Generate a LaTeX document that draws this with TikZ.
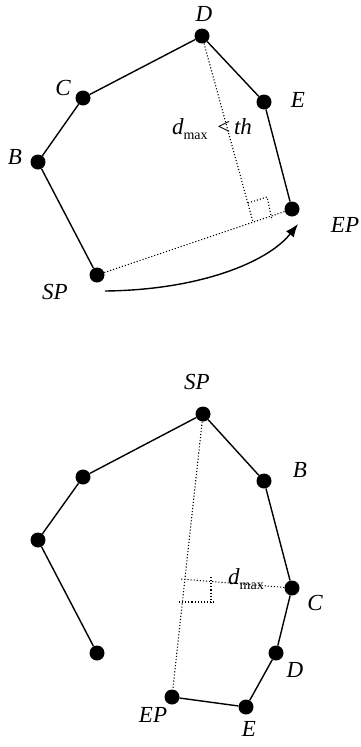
\documentclass[tikz,border=0pt]{standalone}
\usepackage{fontspec}
\setmainfont{Liberation Serif}
\usetikzlibrary{arrows.meta}
\newcommand{\dmaxlabel}{\textit{d}\raisebox{-5pt}{\fontsize{14}{14}\selectfont max}}

\begin{document}
\begin{tikzpicture}[x=1pt,y=-1pt,
  pt/.style={circle,fill=black,inner sep=0pt,minimum size=15pt},
  lbl/.style={font=\fontsize{23}{26}\selectfont\itshape,inner sep=0pt},
  edge/.style={line width=1.4pt},
  dots/.style={line width=1.1pt,dash pattern=on 1.1pt off 2pt}]
  \useasboundingbox (0,0) rectangle (361,747);
  % upper polygon
  \node[pt] (SPa) at (97,275) {};
  \node[pt] (Ba) at (38,162) {};
  \node[pt] (Ca) at (83,98) {};
  \node[pt] (Da) at (202,36) {};
  \node[pt] (Ea) at (264,102) {};
  \node[pt] (EPa) at (292,209) {};
  \node[lbl] (labSPa) at (55,292) {SP};
  \node[lbl] (labBa) at (15,157) {B};
  \node[lbl] (labCa) at (63,88) {C};
  \node[lbl] (labDa) at (204,14) {D};
  \node[lbl] (labEa) at (298,100) {E};
  \node[lbl] (labEPa) at (345,225) {EP};
  \node[font=\fontsize{23}{26}\selectfont,inner sep=0pt] (thr) at (212,129) {\dmaxlabel\ \,<\,\textit{th}};
  \draw[edge] (SPa) -- (Ba) -- (Ca) -- (Da) -- (Ea) -- (EPa);
  \coordinate (footA) at (253,222);
  \draw[dots] (SPa) -- (EPa);
  \draw[dots] (Da) -- (footA);
  \draw[dots] (248,203) -- (267,197) -- (272,220);
  \coordinate (arrS) at (105,291);
  \coordinate (arrE) at (298,224);
  \draw[edge,-{Latex[length=13pt,width=10pt]}] (arrS) .. controls (200,290) and (268,262) .. (arrE);
  % lower polyline
  \node[pt] (SPb) at (203,414) {};
  \node[pt] (Lb1) at (83,477) {};
  \node[pt] (Lb2) at (38,540) {};
  \node[pt] (Lb3) at (97,653) {};
  \node[pt] (Bb) at (264,481) {};
  \node[pt] (Cb) at (292,588) {};
  \node[pt] (Db) at (276,653) {};
  \node[pt] (Eb) at (246,707) {};
  \node[pt] (EPb) at (172,697) {};
  \node[lbl] (labSPb) at (197,382) {SP};
  \node[lbl] (labBb) at (300,470) {B};
  \node[lbl] (labCb) at (315,603) {C};
  \node[lbl] (labDb) at (295,670) {D};
  \node[lbl] (labEb) at (249,729) {E};
  \node[lbl] (labEPb) at (153,715) {EP};
  \node[font=\fontsize{23}{26}\selectfont,inner sep=0pt] (dmx) at (246,579) {\dmaxlabel};
  \draw[edge] (Lb3) -- (Lb2) -- (Lb1) -- (SPb) -- (Bb) -- (Cb) -- (Db) -- (Eb) -- (EPb);
  \coordinate (footB) at (180,579);
  \draw[dots] (SPb) -- (EPb);
  \draw[dots] (Cb) -- (footB);
  \draw[dots] (211,577) -- (211,602);
  \draw[dots] (179,602) -- (214,602);
\end{tikzpicture}
\end{document}
